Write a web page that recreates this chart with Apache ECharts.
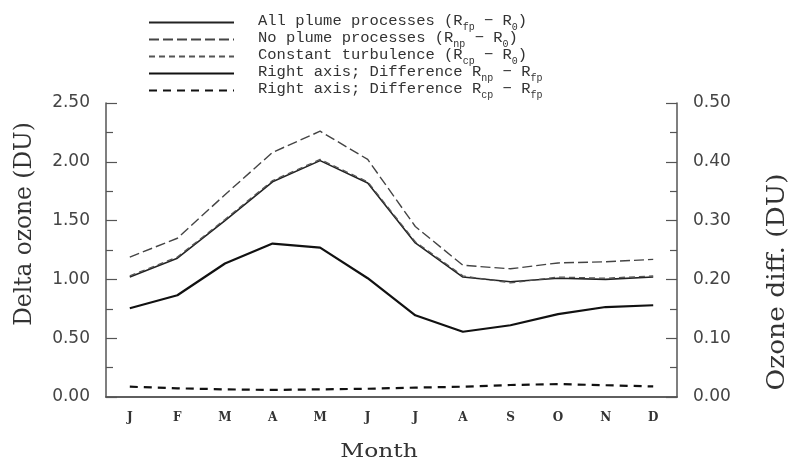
<!DOCTYPE html>
<html>
<head>
<meta charset="utf-8">
<script src="https://cdn.jsdelivr.net/npm/echarts@6/dist/echarts.min.js"></script>
<style>
html,body{margin:0;padding:0;background:#fff;}
#c{width:791px;height:466px;}
</style>
</head>
<body>
<div id="c"></div>
<script>
var months = ['J','F','M','A','M','J','J','A','S','O','N','D'];
var leftTicks = [0, 0.5, 1.0, 1.5, 2.0, 2.5];
var rightTicks = [0, 0.1, 0.2, 0.3, 0.4, 0.5];
// Left axis (Delta ozone, DU)
var allPlume = [1.02, 1.18, 1.50, 1.83, 2.01, 1.82, 1.31, 1.02, 0.98, 1.01, 1.00, 1.02];
var noPlume = [1.19, 1.35, 1.72, 2.08, 2.26, 2.02, 1.45, 1.12, 1.09, 1.14, 1.15, 1.17];
var constTurb = [1.03, 1.19, 1.51, 1.84, 2.02, 1.83, 1.32, 1.03, 0.97, 1.02, 1.01, 1.03];
// Right axis (Ozone diff., DU)
var diffNp = [0.151, 0.173, 0.227, 0.261, 0.254, 0.202, 0.139, 0.111, 0.122, 0.141, 0.153, 0.156];
var diffCp = [0.0175, 0.0148, 0.013, 0.012, 0.013, 0.014, 0.016, 0.0175, 0.0204, 0.022, 0.020, 0.018];

var names = ['All plume processes', 'No plume processes', 'Constant turbulence', 'Right axis; Difference np', 'Right axis; Difference cp'];
var legendRich = {
  'All plume processes': '{a|All plume processes (R}{s|fp}{a| \u2212 R}{s|0}{a|)}',
  'No plume processes': '{a|No plume processes (R}{s|np}{a| \u2212 R}{s|0}{a|)}',
  'Constant turbulence': '{a|Constant turbulence (R}{s|cp}{a| \u2212 R}{s|0}{a|)}',
  'Right axis; Difference np': '{a|Right axis; Difference R}{s|np}{a| \u2212 R}{s|fp}',
  'Right axis; Difference cp': '{a|Right axis; Difference R}{s|cp}{a| \u2212 R}{s|fp}'
};

var axisCol = '#555';
var txtCol = '#333';
var mono = '"Liberation Mono", monospace';
var serif = '"DejaVu Serif", serif';
var sans = '"DejaVu Sans", sans-serif';

var chart = echarts.init(document.getElementById('c'), null, {renderer: 'canvas'});
chart.setOption({
  animation: false,
  backgroundColor: '#fff',
  grid: {left: 106, right: 114, top: 103, bottom: 69},
  legend: {
    data: names,
    orient: 'vertical',
    left: 143,
    top: 8,
    itemWidth: 85,
    itemHeight: 12,
    itemGap: -2,
    itemStyle: {opacity: 0},
    formatter: function (n) { return legendRich[n]; },
    textStyle: {
      padding: [0, 0, 0, 19],
      rich: {
        a: {fontFamily: mono, fontSize: 15.5, color: txtCol, lineHeight: 16, verticalAlign: 'top'},
        s: {fontFamily: mono, fontSize: 10, color: txtCol, lineHeight: 19, verticalAlign: 'bottom'}
      }
    }
  },
  xAxis: [{
    type: 'category',
    data: months,
    boundaryGap: true,
    position: 'bottom',
    axisLine: {lineStyle: {color: axisCol, width: 1.5}},
    axisTick: {inside: true, length: 10, lineStyle: {color: axisCol, width: 1.2}},
    axisLabel: {margin: 15, color: txtCol, fontFamily: serif, fontWeight: 'bold', fontSize: 12}
  }, {
    type: 'category',
    data: months,
    boundaryGap: true,
    position: 'top',
    axisLine: {lineStyle: {color: axisCol, width: 1.5}},
    axisTick: {inside: true, length: 10, lineStyle: {color: axisCol, width: 1.2}},
    axisLabel: {show: false}
  }],
  yAxis: [{
    type: 'value',
    min: leftTicks[0], max: leftTicks[leftTicks.length - 1], interval: 0.5,
    position: 'left',
    axisLine: {show: true, lineStyle: {color: axisCol, width: 1.5}},
    axisTick: {show: true, inside: true, length: 11, lineStyle: {color: axisCol, width: 1.2}},
    minorTick: {show: true, splitNumber: 2, length: 7, lineStyle: {color: axisCol, width: 1.2}},
    splitLine: {show: false},
    axisLabel: {margin: 16, color: '#444', fontFamily: sans, fontSize: 17, formatter: function (v) { return v.toFixed(2); }}
  }, {
    type: 'value',
    min: rightTicks[0], max: rightTicks[rightTicks.length - 1], interval: 0.1,
    position: 'right',
    axisLine: {show: true, lineStyle: {color: axisCol, width: 1.5}},
    axisTick: {show: true, inside: true, length: 11, lineStyle: {color: axisCol, width: 1.2}},
    minorTick: {show: true, splitNumber: 2, length: 7, lineStyle: {color: axisCol, width: 1.2}},
    splitLine: {show: false},
    axisLabel: {margin: 16, color: '#444', fontFamily: sans, fontSize: 17, formatter: function (v) { return v.toFixed(2); }}
  }],
  series: [{
    name: names[0], type: 'line', data: allPlume, yAxisIndex: 0, symbol: 'none',
    lineStyle: {color: '#222', width: 1.6, type: 'solid'}, itemStyle: {color: '#222'}, z: 3
  }, {
    name: names[1], type: 'line', data: noPlume, yAxisIndex: 0, symbol: 'none',
    lineStyle: {color: '#444', width: 1.4, type: [10, 4]}, itemStyle: {color: '#444'}, z: 2
  }, {
    name: names[2], type: 'line', data: constTurb, yAxisIndex: 0, symbol: 'none',
    lineStyle: {color: '#555', width: 1.3, type: [6, 4]}, itemStyle: {color: '#555'}, z: 4
  }, {
    name: names[3], type: 'line', data: diffNp, yAxisIndex: 1, symbol: 'none',
    lineStyle: {color: '#111', width: 2.2, type: 'solid'}, itemStyle: {color: '#111'}, z: 3
  }, {
    name: names[4], type: 'line', data: diffCp, yAxisIndex: 1, symbol: 'none',
    lineStyle: {color: '#111', width: 2.2, type: [8, 6]}, itemStyle: {color: '#111'}, z: 3
  }],
  graphic: [{
    type: 'text',
    x: 25, y: 224, rotation: Math.PI / 2, scaleX: 1.11, scaleY: 1.15,
    style: {text: 'Delta ozone (DU)', font: '21px ' + serif, fill: txtCol, align: 'center', verticalAlign: 'middle'}
  }, {
    type: 'text',
    x: 778, y: 282, rotation: Math.PI / 2, scaleX: 1.26, scaleY: 1.15,
    style: {text: 'Ozone diff. (DU)', font: '21px ' + serif, fill: txtCol, align: 'center', verticalAlign: 'middle'}
  }, {
    type: 'text',
    x: 379, y: 452, scaleX: 1.3,
    style: {text: 'Month', font: '18px ' + serif, fill: txtCol, align: 'center', verticalAlign: 'middle'}
  }]
});
</script>
</body>
</html>
